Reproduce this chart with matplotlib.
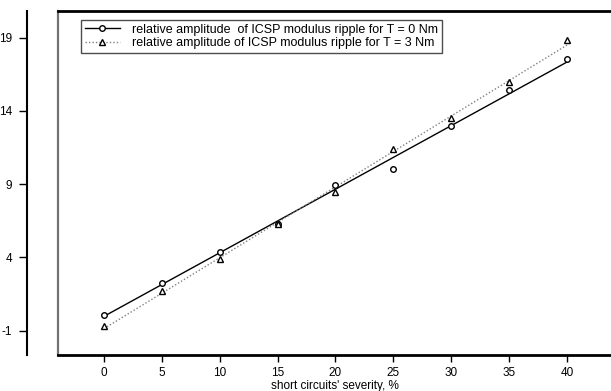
import numpy as np
import matplotlib
matplotlib.use("Agg")
import matplotlib.pyplot as plt
from matplotlib.lines import Line2D

plt.rcParams['font.family'] = ['Liberation Sans', 'DejaVu Sans']
plt.rcParams['axes.unicode_minus'] = False

severity = [0, 5, 10, 15, 20, 25, 30, 35, 40]
amp_T0 = [0.09, 2.24, 4.39, 6.28, 8.97, 10.04, 12.97, 15.41, 17.53]
amp_T3 = [-0.66, 1.73, 3.87, 6.25, 8.45, 11.38, 13.5, 15.96, 18.86]
xticks = [0, 5, 10, 15, 20, 25, 30, 35, 40]
yticks = [-1, 4, 9, 14, 19]
label_T0 = "relative amplitude  of ICSP modulus ripple for T = 0 Nm"
label_T3 = "relative amplitude of ICSP modulus ripple for T = 3 Nm"
xlabel = "short circuits' severity, %"

W, H = 611, 391
fig = plt.figure(figsize=(W / 100, H / 100), dpi=100)
left, right, top, bottom = 58, 611, 11, 355
ax = fig.add_axes([left / W, 1 - bottom / H, (right - left) / W, (bottom - top) / H])

x = np.array(severity, dtype=float)
fit0 = np.polyfit(x, amp_T0, 1)
fit3 = np.polyfit(x, amp_T3, 1)
xs = np.array([severity[0], severity[-1]], dtype=float)

dotted = (0, (1, 1.5))
ax.plot(xs, np.polyval(fit0, xs), color='black', lw=1.0, zorder=2)
ax.plot(xs, np.polyval(fit3, xs), color='0.5', lw=1.0, ls=dotted, zorder=2)
ax.plot(severity, amp_T0, ls='none', marker='o', ms=4, mfc='white', mec='black', mew=1.0, zorder=3)
ax.plot(severity, amp_T3, ls='none', marker='^', ms=4, mfc='white', mec='black', mew=1.0, zorder=3)

ax.set_xlim(-3.97, 43.8)
ax.set_ylim(-2.66, 20.82)
ax.set_xticks(xticks)
ax.set_yticks(yticks)

ax.spines['right'].set_visible(False)
ax.spines['top'].set_linewidth(2.0)
ax.spines['bottom'].set_linewidth(2.0)
ax.spines['left'].set_position(('outward', 22))
ax.spines['left'].set_linewidth(1.5)

# gray frame edge at the left of the plotting box
ax.add_line(Line2D([0, 0], [0, 1], transform=ax.transAxes, color='0.45', lw=1.6, clip_on=False))

ax.tick_params(axis='x', direction='out', length=5, width=1, pad=3.5, labelsize=8.5)
ax.tick_params(axis='y', direction='out', length=6, width=1, pad=5, labelsize=8.5)
ax.set_xlabel(xlabel, fontsize=8.5, va='top')
ax.xaxis.set_label_coords(0.5, (bottom - 379.5) / (bottom - top))

h0 = Line2D([], [], color='black', lw=1.0, marker='o', ms=4, mfc='white', mec='black', mew=1.0)
h3 = Line2D([], [], color='0.5', lw=1.0, ls=dotted, marker='^', ms=4, mfc='white', mec='black', mew=1.0)
leg = ax.legend([h0, h3], [label_T0, label_T3], loc='upper left',
                bbox_to_anchor=((81 - left) / (right - left), (bottom - 20) / (bottom - top)),
                borderaxespad=0, fontsize=9, handlelength=2.8, handletextpad=1.0,
                labelspacing=0.1, borderpad=0.3, fancybox=False, framealpha=1,
                edgecolor='0.3', markerscale=1.0)
leg.get_frame().set_linewidth(1.0)

fig.savefig('out.png', dpi=100)
